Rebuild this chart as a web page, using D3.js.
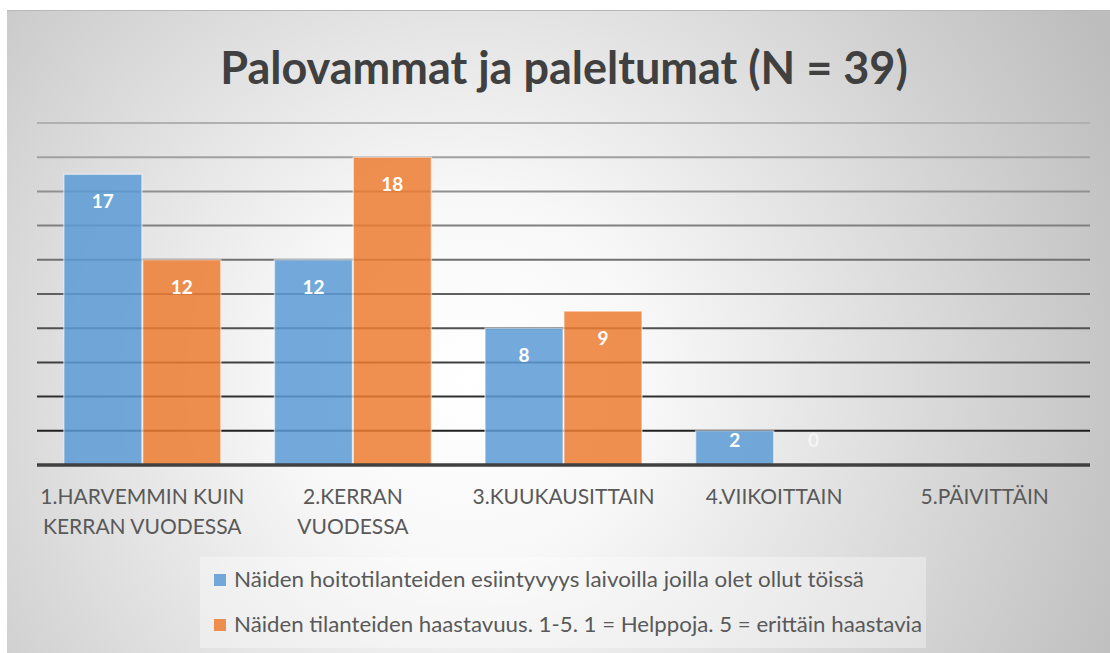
<!DOCTYPE html>
<html><head><meta charset="utf-8">
<script src="https://cdn.jsdelivr.net/npm/d3@7"></script>
<style>body{margin:0;background:#fff;}svg{display:block;font-family:Lato,"Open Sans",sans-serif;}</style>
</head><body>
<svg id="c" width="1110" height="653"></svg>
<script>
const title = "Palovammat ja paleltumat (N = 39)";
const categories = ["1.HARVEMMIN KUIN|KERRAN VUODESSA","2.KERRAN|VUODESSA","3.KUUKAUSITTAIN","4.VIIKOITTAIN","5.PÄIVITTÄIN"];
const seriesNames = ["Näiden hoitotilanteiden esiintyvyys laivoilla joilla olet ollut töissä","Näiden tilanteiden haastavuus. 1-5. 1 = Helppoja. 5 = erittäin haastavia"];
const seriesA = [17,12,8,2,null];
const seriesB = [12,18,9,0,null];
const colors = ["#5B9BD5","#ED7D31"];
const yTicks = [0,2,4,6,8,10,12,14,16,18,20];

const svg = d3.select("#c");
const defs = svg.append("defs");
const rg = defs.append("radialGradient").attr("id","bg").attr("gradientUnits","userSpaceOnUse")
  .attr("cx",470).attr("cy",380).attr("r",720);
rg.append("stop").attr("offset","0").attr("stop-color","#ffffff");
rg.append("stop").attr("offset","0.25").attr("stop-color","#f8f8f8");
rg.append("stop").attr("offset","1").attr("stop-color","#bdbdbd");

svg.append("rect").attr("x",7).attr("y",10).attr("width",1103).attr("height",643).attr("fill","url(#bg)");
svg.append("line").attr("x1",7).attr("x2",1110).attr("y1",10.5).attr("y2",10.5).attr("stroke","#b8b8b8").attr("stroke-width",1);

svg.append("text").attr("x",564).attr("y",84).attr("text-anchor","middle")
  .attr("font-size",45).attr("font-weight","bold").attr("fill","#404040").text(title);

const x0 = d3.scaleBand().domain(d3.range(categories.length)).range([37,1090]).paddingInner(0).paddingOuter(0);
const x1 = d3.scaleBand().domain([0,1]).range([0,x0.bandwidth()]).paddingInner(0.01).paddingOuter(0.34);
const y = d3.scaleLinear().domain([0,20]).range([465,123]);

const gc = d3.scaleLinear().domain([20,2]).range(["#b0b0b0","#202020"]);
svg.append("g").selectAll("line").data(yTicks.filter(d=>d>0)).join("line")
  .attr("x1",37).attr("x2",1090).attr("y1",d=>y(d)).attr("y2",d=>y(d))
  .attr("stroke",d=>gc(d)).attr("stroke-width",2);

const groups = svg.append("g").selectAll("g").data(categories).join("g")
  .attr("transform",(d,i)=>`translate(${x0(i)},0)`);
[seriesA,seriesB].forEach((s,si)=>{
  groups.filter((d,i)=>s[i]!==null && s[i]>0).append("rect")
    .attr("x",x1(si)).attr("width",x1.bandwidth())
    .attr("y",(d)=>y(s[categories.indexOf(d)])).attr("height",d=>y(0)-y(s[categories.indexOf(d)]))
    .attr("fill",colors[si]).attr("fill-opacity",0.85)
    .attr("stroke","#ffffff").attr("stroke-opacity",0.5).attr("stroke-width",1.5);
  groups.filter((d,i)=>s[i]!==null).append("text")
    .attr("x",x1(si)+x1.bandwidth()/2)
    .attr("y",d=>{const v=s[categories.indexOf(d)];return Math.min(y(v)+27,y(0)-25)+7;})
    .attr("text-anchor","middle").attr("font-size",19).attr("font-weight","bold").attr("fill","#fff")
    .attr("fill-opacity",d=>s[categories.indexOf(d)]===0?0.6:1)
    .text(d=>s[categories.indexOf(d)]);
});

svg.append("line").attr("x1",37).attr("x2",1090).attr("y1",y(0)).attr("y2",y(0)).attr("stroke","#404040").attr("stroke-width",3.5);

groups.append("text").attr("text-anchor","middle").attr("font-size",21).attr("fill","#595959")
  .each(function(d){
    const lines=d.split("|");
    d3.select(this).selectAll("tspan").data(lines).join("tspan")
      .attr("x",x0.bandwidth()/2).attr("y",(l,i)=>504+i*30).text(l=>l);
  });

const lg = svg.append("g");
const legendWidths = [630, 688];
lg.append("rect").attr("x",200).attr("y",557).attr("width",726).attr("height",91).attr("fill","#ffffff").attr("fill-opacity",0.35);
seriesNames.forEach((n,i)=>{
  const cy = 580+i*45;
  lg.append("rect").attr("x",214).attr("y",cy-6).attr("width",12).attr("height",12).attr("fill",colors[i]).attr("fill-opacity",0.85);
  lg.append("text").attr("x",234).attr("y",cy+7).attr("font-size",21).attr("fill","#595959")
    .attr("textLength",legendWidths[i]).attr("lengthAdjust","spacingAndGlyphs").text(n);
});
</script>
</body></html>
